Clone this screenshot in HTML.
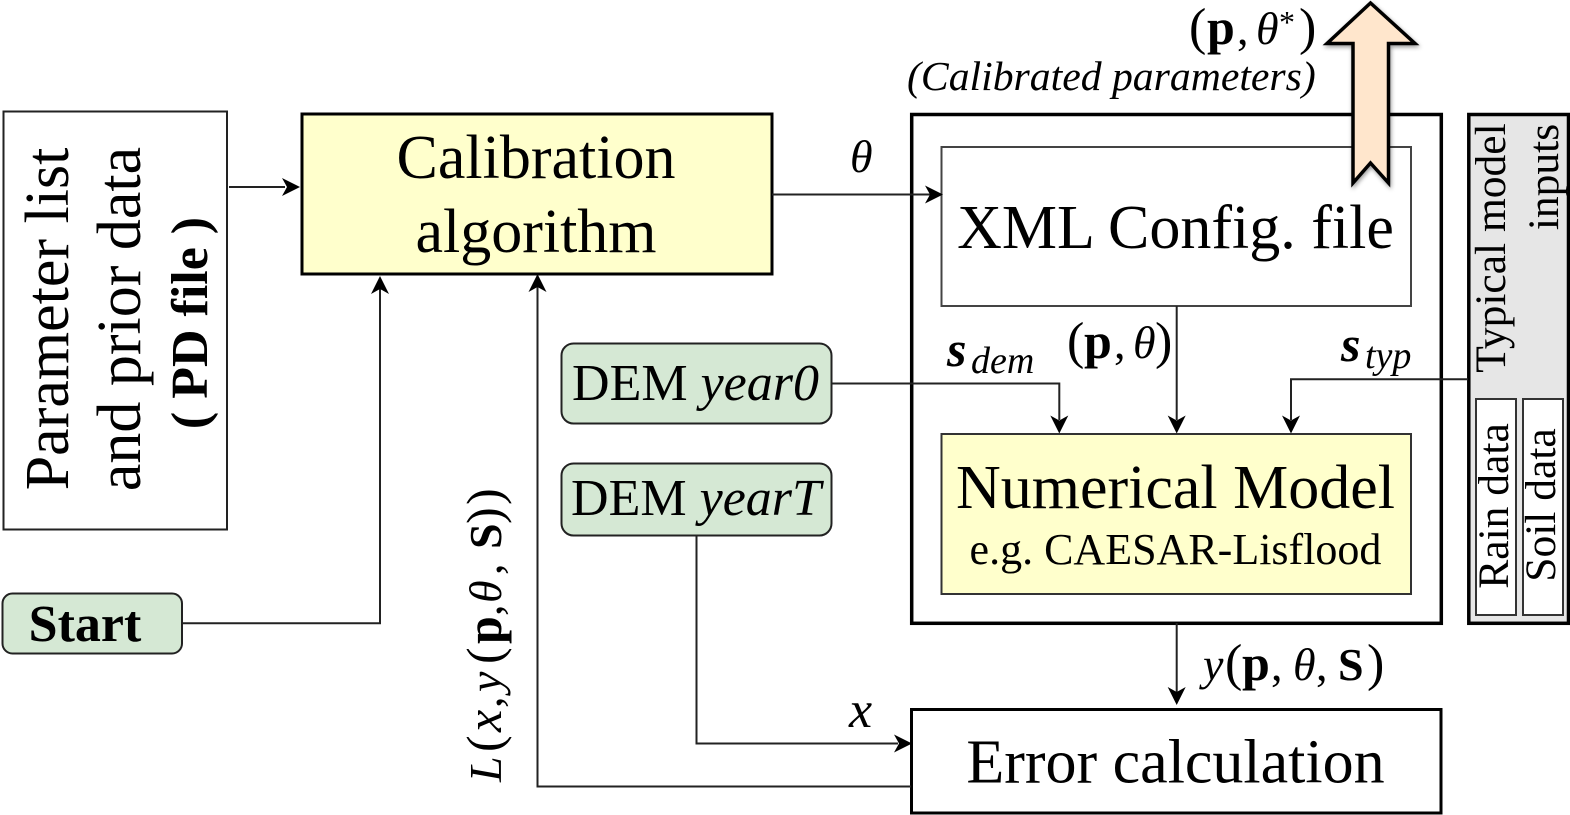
<!DOCTYPE html>
<html>
<head>
<meta charset="utf-8">
<style>
html,body{margin:0;padding:0;background:#fff;width:1570px;height:815px;overflow:hidden}
svg{display:block}
text{font-family:"Liberation Serif",serif;fill:#000}
.i{font-style:italic}
.b{font-weight:bold}
</style>
</head>
<body>
<svg width="1570" height="815" viewBox="0 0 1570 815" xmlns="http://www.w3.org/2000/svg">
<defs>
<filter id="sh" x="-30%" y="-10%" width="160%" height="120%"><feDropShadow dx="1" dy="2" stdDeviation="2" flood-color="#000" flood-opacity=".4"/></filter>
<path id="ah" d="M0 0 L-9 -18 L0 -13 L9 -18 Z" fill="#000"/>
</defs>

<!-- boxes -->
<rect x="3.500" y="111.500" width="223.500" height="418" fill="#fff" stroke="#222" stroke-width="2"/>
<rect x="302" y="114" width="470" height="160" fill="#ffffcc" stroke="#000" stroke-width="3"/>
<rect x="911.700" y="114.500" width="529.600" height="508.800" fill="#fff" stroke="#000" stroke-width="3.500"/>
<rect x="941.500" y="147" width="469.500" height="159" fill="#fff" stroke="#444" stroke-width="2"/>
<rect x="941.500" y="434" width="469.500" height="160" fill="#ffffcc" stroke="#333" stroke-width="2"/>
<rect x="1468.800" y="114.500" width="99.700" height="508.800" fill="#e6e6e6" stroke="#000" stroke-width="3.500"/>
<rect x="1476" y="399" width="40" height="216" fill="#fff" stroke="#333" stroke-width="2"/>
<rect x="1523" y="399" width="40" height="216" fill="#fff" stroke="#333" stroke-width="2"/>
<path d="M1540 191.500H1568" stroke="#111" stroke-width="2" fill="none"/>
<rect x="2.500" y="593.500" width="179.500" height="60" rx="10" fill="#d5e8d4" stroke="#222" stroke-width="2"/>
<rect x="561.500" y="343.500" width="270" height="80" rx="12" fill="#d5e8d4" stroke="#222" stroke-width="2"/>
<rect x="561.500" y="463.500" width="270" height="72" rx="12" fill="#d5e8d4" stroke="#222" stroke-width="2"/>
<rect x="911.500" y="709.500" width="529.500" height="103.500" fill="#fff" stroke="#000" stroke-width="3"/>

<!-- connectors -->
<g fill="none" stroke="#222" stroke-width="2">
<path d="M229 187H285"/>
<path d="M182 623.300H380V285"/>
<path d="M772 194.500H930"/>
<path d="M1176.700 306V420"/>
<path d="M831 383.500H1059.300V420"/>
<path d="M1468 379.300H1291V420"/>
<path d="M1176.700 623V692"/>
<path d="M696.500 535V743.500H898"/>
<path d="M911 786.500H537.500V285"/>
</g>
<use href="#ah" transform="translate(300,187) rotate(-90)"/>
<use href="#ah" transform="translate(380,276) rotate(180)"/>
<use href="#ah" transform="translate(943,194.500) rotate(-90)"/>
<use href="#ah" transform="translate(1176.700,433.500)"/>
<use href="#ah" transform="translate(1059.300,433.500)"/>
<use href="#ah" transform="translate(1291,433.500)"/>
<use href="#ah" transform="translate(1176.700,705)"/>
<use href="#ah" transform="translate(912,743.500) rotate(-90)"/>
<use href="#ah" transform="translate(537.500,274) rotate(180)"/>

<!-- big arrow -->
<polygon points="1370.500,3 1327,43.500 1353,43.500 1353,183 1370.500,163 1388.500,183 1388.500,43.500 1415,43.500" fill="#ffe6cc" stroke="#000" stroke-width="3.500" filter="url(#sh)"/>

<!-- text -->
<text transform="translate(68,319) rotate(-90)" font-size="62" text-anchor="middle">Parameter list</text>
<text transform="translate(140,319) rotate(-90)" font-size="62" text-anchor="middle">and prior data</text>
<text transform="translate(207,323) rotate(-90)" font-size="52" text-anchor="middle" class="b">( PD file )</text>

<text x="536" y="178" font-size="62" text-anchor="middle">Calibration</text>
<text x="536" y="252" font-size="62" text-anchor="middle">algorithm</text>

<text x="85" y="641" font-size="52" text-anchor="middle" class="b">Start</text>

<text x="695.500" y="400" font-size="52" text-anchor="middle">DEM <tspan class="i">year0</tspan></text>
<text x="696" y="515" font-size="52" text-anchor="middle">DEM <tspan class="i">yearT</tspan></text>

<text x="1175.500" y="248" font-size="62" text-anchor="middle">XML Config. file</text>
<text x="1175.500" y="508" font-size="62" text-anchor="middle">Numerical Model</text>
<text x="1175.500" y="564" font-size="44" text-anchor="middle">e.g. CAESAR-Lisflood</text>
<text x="1175.500" y="782.500" font-size="62" text-anchor="middle">Error calculation</text>

<text transform="translate(1505,248) rotate(-90)" font-size="43.500" text-anchor="middle">Typical model</text>
<text transform="translate(1558,177) rotate(-90)" font-size="43.500" text-anchor="middle">inputs</text>
<text transform="translate(1508,506) rotate(-90)" font-size="43.500" text-anchor="middle">Rain data</text>
<text transform="translate(1555,505) rotate(-90)" font-size="43.500" text-anchor="middle">Soil data</text>

<text y="44" font-size="52"><tspan x="1189">(</tspan><tspan x="1207" class="b" font-size="50">p</tspan><tspan x="1237" font-size="46">,</tspan><tspan x="1256" class="i" font-size="46">θ</tspan><tspan x="1279" font-size="32" y="33">*</tspan><tspan x="1299" y="44">)</tspan></text>
<text x="907" y="90" font-size="41.700" class="i">(Calibrated parameters)</text>
<text x="850" y="172" font-size="46" class="i">θ</text>
<text y="358" font-size="52"><tspan x="1067">(</tspan><tspan x="1084" class="b" font-size="50">p</tspan><tspan x="1114" font-size="46">,</tspan><tspan x="1133" class="i" font-size="46">θ</tspan><tspan x="1155">)</tspan></text>
<text x="947" y="366" font-size="50" class="i b">s</text>
<text x="971" y="373" font-size="38" class="i">dem</text>
<text x="1341" y="361" font-size="50" class="i b">s</text>
<text x="1365" y="368" font-size="38" class="i">typ</text>
<text y="680" font-size="52"><tspan x="1203" class="i" font-size="46">y</tspan><tspan x="1225">(</tspan><tspan x="1242" class="b" font-size="50">p</tspan><tspan x="1271" font-size="46">,</tspan><tspan x="1293" class="i" font-size="46">θ</tspan><tspan x="1316" font-size="46">,</tspan><tspan x="1338" class="b" font-size="46">S</tspan><tspan x="1367">)</tspan></text>
<text x="849" y="727" font-size="52" class="i">x</text>
<text transform="translate(501,782) rotate(-90)" font-size="50"><tspan x="0" class="i" font-size="46">L</tspan><tspan x="30">(</tspan><tspan x="50" class="i">x</tspan><tspan x="74" font-size="46">,</tspan><tspan x="90" class="i" font-size="46">y</tspan><tspan x="118">(</tspan><tspan x="138" class="b" font-size="50">p</tspan><tspan x="166" font-size="46">,</tspan><tspan x="179" class="i" font-size="46">θ</tspan><tspan x="207" font-size="46">,</tspan><tspan x="233" class="b" font-size="46">S</tspan><tspan x="258">)</tspan><tspan x="277">)</tspan></text>
</svg>
</body>
</html>
